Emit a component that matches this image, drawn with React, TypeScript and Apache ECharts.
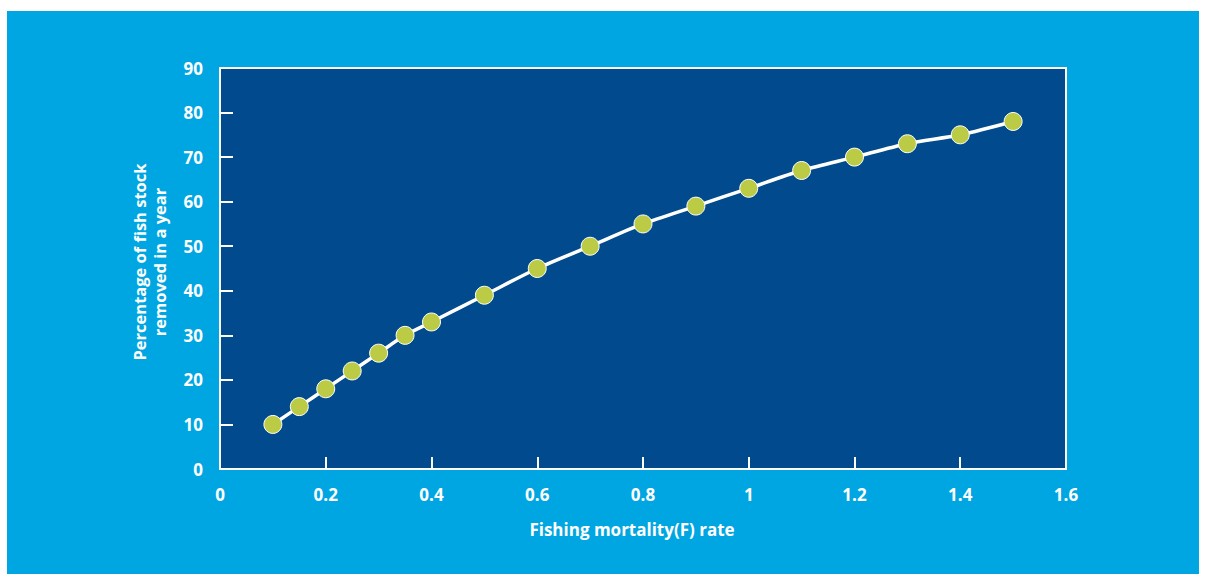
import React, { useEffect, useRef } from "react";
import * as echarts from "echarts";

const fishingMortality = [0.1, 0.15, 0.2, 0.25, 0.3, 0.35, 0.4, 0.5, 0.6, 0.7, 0.8, 0.9, 1.0, 1.1, 1.2, 1.3, 1.4, 1.5];
const percentRemoved = [10, 14, 18, 22, 26, 30, 33, 39, 45, 50, 55, 59, 63, 67, 70, 73, 75, 78];
const xAxisTitle = "Fishing mortality(F) rate";
const yAxisTitle = "Percentage of fish stock\nremoved in a year";

const FONT = '"Open Sans", "Noto Sans", sans-serif';

export default function App() {
  const ref = useRef<HTMLDivElement>(null);
  useEffect(() => {
    if (!ref.current) return;
    const chart = echarts.init(ref.current, null, { renderer: "svg" });
    chart.setOption({
      animation: false,
      backgroundColor: "#ffffff",
      graphic: [
        {
          type: "rect",
          z: -10,
          shape: { x: 7, y: 11, width: 1192, height: 563 },
          style: { fill: "#00A6E2" },
          silent: true,
        },
        {
          type: "text",
          x: 149,
          y: 262,
          rotation: Math.PI / 2,
          style: {
            text: yAxisTitle,
            align: "center",
            verticalAlign: "middle",
            fill: "#ffffff",
            font: `bold 16.5px ${FONT}`,
            lineHeight: 20,
          },
        },
      ],
      grid: {
        left: 220,
        top: 68,
        right: 140,
        bottom: 105,
        show: true,
        backgroundColor: "#004A8D",
        borderColor: "#ffffff",
        borderWidth: 2,
        z: 0,
      },
      xAxis: {
        type: "value",
        min: 0,
        max: 1.6,
        interval: 0.2,
        name: xAxisTitle,
        nameLocation: "middle",
        nameGap: 52,
        nameTextStyle: { color: "#ffffff", fontWeight: "bold", fontSize: 17, fontFamily: FONT, padding: [0, 22, 0, 0] },
        axisLine: { show: true, lineStyle: { color: "#ffffff", width: 2 } },
        axisTick: { show: true, inside: true, length: 12, lineStyle: { color: "#ffffff", width: 2 } },
        axisLabel: {
          color: "#ffffff",
          fontWeight: "bold",
          fontSize: 17,
          fontFamily: FONT,
          margin: 17,
          formatter: (v: number) => String(Math.round(v * 10) / 10),
        },
        splitLine: { show: false },
      },
      yAxis: {
        type: "value",
        min: 0,
        max: 90,
        interval: 10,
        axisLine: { show: true, lineStyle: { color: "#ffffff", width: 2 } },
        axisTick: { show: true, inside: true, length: 13, lineStyle: { color: "#ffffff", width: 2 } },
        axisLabel: { color: "#ffffff", fontWeight: "bold", fontSize: 17, fontFamily: FONT, margin: 17 },
        splitLine: { show: false },
      },
      series: [
        {
          type: "line",
          data: fishingMortality.map((f, i) => [f, percentRemoved[i]]),
          smooth: 0.3,
          symbol: "circle",
          symbolSize: 18,
          lineStyle: { color: "#ffffff", width: 3.5 },
          itemStyle: { color: "#BCCB45", borderColor: "#ffffff", borderWidth: 1 },
          z: 5,
        },
      ],
    });
    return () => chart.dispose();
  }, []);
  return (
    <div
      ref={ref}
      style={{ position: "fixed", left: 0, top: 0, width: 1206, height: 574 }}
    />
  );
}
